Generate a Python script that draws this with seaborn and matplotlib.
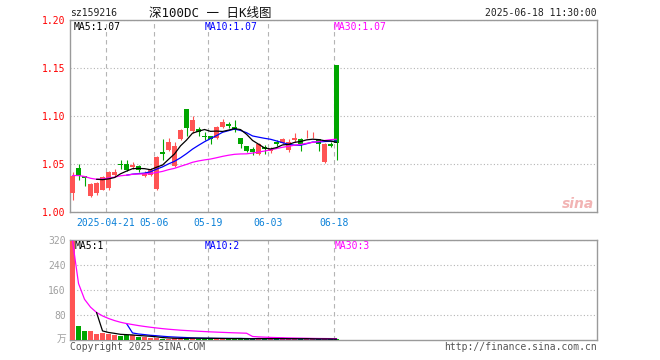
import numpy as np
import pandas as pd
import matplotlib
matplotlib.use("Agg")
import matplotlib.pyplot as plt
import seaborn as sns

# daily K-line data, 159216 (price in yuan, volume in 10k shares)
dates = ["04-11", "04-14", "04-15", "04-16", "04-17", "04-18", "04-21", "04-22",
         "04-23", "04-24", "04-25", "04-28", "04-29", "04-30", "05-06", "05-07",
         "05-08", "05-09", "05-12", "05-13", "05-14", "05-15", "05-16", "05-19",
         "05-20", "05-21", "05-22", "05-23", "05-26", "05-27", "05-28", "05-29",
         "05-30", "06-03", "06-04", "06-05", "06-06", "06-09", "06-10", "06-11",
         "06-12", "06-13", "06-16", "06-17", "06-18"]
open_px = [1.020, 1.046, 1.037, 1.017, 1.020, 1.023, 1.025, 1.039, 1.050, 1.050,
           1.047, 1.048, 1.038, 1.039, 1.024, 1.063, 1.065, 1.048, 1.076, 1.107,
           1.084, 1.086, 1.0795, 1.0795, 1.077, 1.089, 1.0913, 1.089, 1.0767, 1.069,
           1.0656, 1.0607, 1.0677, 1.0635, 1.0726, 1.072, 1.0642, 1.0746, 1.076, 1.0788,
           1.0788, 1.076, 1.052, 1.071, 1.1534]
close_px = [1.038, 1.038, 1.035, 1.0295, 1.030, 1.036, 1.042, 1.042, 1.049, 1.044,
            1.0486, 1.0435, 1.0406, 1.0435, 1.057, 1.060, 1.073, 1.069, 1.0857, 1.087,
            1.096, 1.083, 1.078, 1.076, 1.0885, 1.094, 1.090, 1.0857, 1.071, 1.064,
            1.062, 1.0704, 1.066, 1.066, 1.071, 1.076, 1.073, 1.0767, 1.0704, 1.0795,
            1.0795, 1.071, 1.071, 1.069, 1.072]
high_px = [1.042, 1.050, 1.038, 1.030, 1.031, 1.037, 1.043, 1.045, 1.0545, 1.0545,
           1.052, 1.049, 1.043, 1.046, 1.0587, 1.076, 1.0767, 1.0726, 1.0865, 1.107,
           1.100, 1.089, 1.083, 1.0795, 1.090, 1.097, 1.094, 1.096, 1.0767, 1.069,
           1.068, 1.072, 1.070, 1.068, 1.075, 1.0774, 1.0764, 1.082, 1.0774, 1.085,
           1.083, 1.076, 1.072, 1.0725, 1.1534]
low_px = [1.012, 1.033, 1.027, 1.016, 1.018, 1.023, 1.023, 1.0365, 1.045, 1.043,
          1.045, 1.042, 1.0365, 1.037, 1.0225, 1.0545, 1.0635, 1.047, 1.0746, 1.0795,
          1.082, 1.0795, 1.075, 1.0705, 1.076, 1.087, 1.088, 1.0836, 1.067, 1.062,
          1.059, 1.0594, 1.060, 1.0614, 1.069, 1.0704, 1.062, 1.073, 1.064, 1.0774,
          1.0774, 1.064, 1.051, 1.068, 1.054]
volume = [317, 43, 28, 28, 19, 20, 18, 14, 12, 14, 15, 9, 8, 6, 5,
          3, 3, 4, 3, 6, 5, 3, 3, 3, 4, 3, 2, 3, 3, 2,
          2, 5, 2, 3, 2, 3, 3, 2, 2, 3, 1, 1, 2, 1, 1]

tick_dates = ["04-21", "05-06", "05-19", "06-03", "06-18"]
tick_labels = ["2025-04-21", "05-06", "05-19", "06-03", "06-18"]
price_ticks = [1.00, 1.05, 1.10, 1.15, 1.20]
vol_ticks = [80, 160, 240, 320]

RED = "#ff5454"
GREEN = "#00a600"
GRID = "#b4b4b4"
FRAME = "#9a9a9a"

sns.set_style("white")
plt.rcParams["font.family"] = ["DejaVu Sans Mono", "Noto Sans CJK SC"]

df = pd.DataFrame({"date": dates, "open": open_px, "close": close_px,
                   "high": high_px, "low": low_px, "vol": volume})
df["idx"] = np.arange(len(df))
df["dir"] = np.where(df["close"] >= df["open"], "up", "down")
for col, tag in [("close", "p"), ("vol", "v")]:
    df[f"ma5_{tag}"] = df[col].rolling(5, min_periods=5).mean()
    df[f"ma10_{tag}"] = df[col].rolling(10, min_periods=10).mean()
    df[f"ma30_{tag}"] = df[col].rolling(30, min_periods=1).mean()

W, H = 660, 360
fig = plt.figure(figsize=(W / 100, H / 100), dpi=100)
ax = fig.add_axes([70 / W, 1 - 212 / H, 527 / W, 192 / H])
axv = fig.add_axes([70 / W, 1 - 339.5 / H, 527 / W, 99.5 / H])

xmin, xmax = -0.42, 87.4
grid_x = [dates.index(d) - 0.42 for d in tick_dates]

# candles
colors = np.where(df["dir"] == "up", RED, GREEN)
ax.vlines(df["idx"], df["low"], df["high"], colors=colors, lw=0.8, zorder=2)
body_lo = np.minimum(df["open"], df["close"])
body_h = np.maximum((df["close"] - df["open"]).abs(), 0.0008)
ax.bar(df["idx"], body_h, bottom=body_lo, width=0.83, color=colors, linewidth=0, zorder=3)

# moving averages
sns.lineplot(data=df, x="idx", y="ma10_p", color="#0000ff", lw=0.9, ax=ax, zorder=4)
sns.lineplot(data=df, x="idx", y="ma30_p", color="#ff00ff", lw=0.9, ax=ax, zorder=5)
sns.lineplot(data=df, x="idx", y="ma5_p", color="#000000", lw=0.9, ax=ax, zorder=6)

# volume
sns.barplot(data=df, x="idx", y="vol", hue="dir", palette={"up": RED, "down": GREEN},
            native_scale=True, dodge=False, width=0.83, saturation=1, errorbar=None,
            legend=False, linewidth=0, ax=axv, zorder=3)
sns.lineplot(data=df, x="idx", y="ma10_v", color="#0000ff", lw=0.9, ax=axv, zorder=4)
sns.lineplot(data=df, x="idx", y="ma30_v", color="#ff00ff", lw=0.9, ax=axv, zorder=5)
sns.lineplot(data=df, x="idx", y="ma5_v", color="#000000", lw=0.9, ax=axv, zorder=6)

for a in (ax, axv):
    a.set_xlim(xmin, xmax)
    a.set_xlabel("")
    a.set_ylabel("")
    a.set_xticks(grid_x)
    a.xaxis.grid(True, linestyle=(0, (4, 3.2)), color=GRID, lw=0.8)
    a.yaxis.grid(True, linestyle=(0, (1, 2)), color=GRID, lw=0.8)
    a.set_axisbelow(True)
    for s in a.spines.values():
        s.set_color(FRAME)
        s.set_linewidth(1.0)

ax.set_ylim(1.0, 1.2)
ax.set_yticks(price_ticks)
ax.set_yticklabels([f"{v:.2f}" for v in price_ticks])
ax.tick_params(axis="y", length=0, pad=3, labelsize=7, labelcolor="#ff0000")
ax.set_xticklabels(tick_labels)
ax.tick_params(axis="x", length=0, pad=4, labelsize=7, labelcolor="#0a80d8")

axv.set_ylim(0, 320)
axv.set_yticks(vol_ticks)
axv.set_yticklabels([str(v) for v in vol_ticks])
axv.tick_params(axis="y", length=0, pad=3, labelsize=7, labelcolor="#a0a0a0")
axv.tick_params(axis="x", length=0, labelbottom=False)


def px(x, y, s, **kw):
    fig.text(x / W, 1 - y / H, s, va="center", fontsize=kw.pop("fontsize", 7), **kw)


def cut2(v):
    # price MA labels are cut to two decimals
    return f"{np.floor(v * 100) / 100:.2f}"


last = df.iloc[-1]
px(70, 13, "sz159216", color="#222222")
px(210, 13, "深100DC 一 日K线图", ha="center", fontsize=9, color="#111111")
px(597, 13, "2025-06-18 11:30:00", ha="right", color="#222222")
px(74, 27, f"MA5:{cut2(last['ma5_p'])}", color="#000000")
px(205, 27, f"MA10:{cut2(last['ma10_p'])}", color="#0000ff")
px(334, 27, f"MA30:{cut2(last['ma30_p'])}", color="#ff00ff")
px(75, 246, f"MA5:{last['ma5_v']:.0f}", color="#000000")
px(205, 246, f"MA10:{last['ma10_v']:.0f}", color="#0000ff")
px(335, 246, f"MA30:{last['ma30_v']:.0f}", color="#ff00ff")
px(66, 339, "万", ha="right", color="#a0a0a0")
px(70, 347, "Copyright 2025 SINA.COM", color="#555555")
px(597, 347, "http://finance.sina.com.cn", ha="right", color="#555555")
px(594, 204, "sina", ha="right", fontsize=10, color="#f2b4b4",
   style="italic", weight="bold", family="DejaVu Sans")

fig.savefig("out.png", dpi=100)
